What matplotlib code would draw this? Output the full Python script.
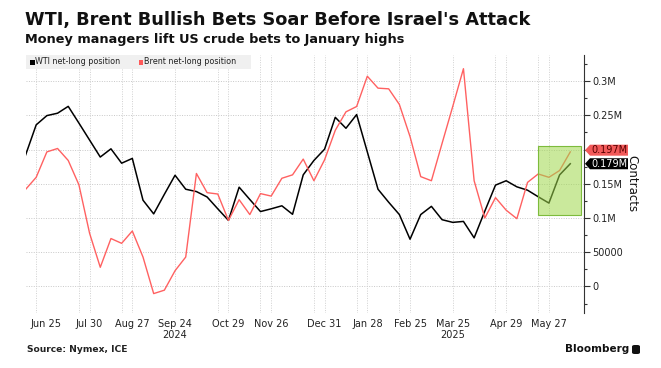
import matplotlib
matplotlib.use('Agg')
import matplotlib.pyplot as plt
import matplotlib.ticker as mticker
import matplotlib.transforms as mtransforms
from matplotlib.patches import Rectangle, Polygon, FancyBboxPatch
import numpy as np
import pandas as pd

# ---------------- data ----------------
dates = pd.date_range('2024-06-18', periods=52, freq='7D')
wti_k = [191.6, 236, 249.5, 253, 263, 238.6, 213.8, 189, 201, 180, 187, 126, 106,
         134.6, 162.4, 142, 138.6, 130.7, 113.4, 96.5, 145, 127, 109.4, 113.4, 117.8,
         105.4, 163, 184, 200.5, 247, 231, 251, 196.5, 142, 123, 105, 69, 105, 117,
         97.5, 93.6, 95, 71, 110, 148, 154.4, 145.5, 140.6, 131, 121.8, 162.9, 179.2]
brent_k = [141.6, 159.4, 196.5, 201.5, 184, 148.5, 77.7, 28, 70, 63, 81, 43, -10.4,
           -5.4, 23, 43, 165, 137, 135, 96.5, 126.7, 105, 135.6, 132, 158, 163, 186,
           154.4, 185, 228, 255, 262.8, 307, 289.6, 288.6, 265.8, 218.8, 160.4, 154.4,
           209, 263, 318, 154.4, 100, 129.7, 111.4, 99, 152, 164.3, 159.4, 169.3, 196.5]
wti = np.array(wti_k) * 1000
brent = np.array(brent_k) * 1000

tick_dates = ['2024-06-25', '2024-07-30', '2024-08-27', '2024-09-24', '2024-10-29',
              '2024-11-26', '2024-12-31', '2025-01-28', '2025-02-25', '2025-03-25',
              '2025-04-29', '2025-05-27']
tick_labels = ['Jun 25', 'Jul 30', 'Aug 27', 'Sep 24\n2024', 'Oct 29', 'Nov 26',
               'Dec 31', 'Jan 28', 'Feb 25', 'Mar 25\n2025', 'Apr 29', 'May 27']
extra_grid_dates = ['2024-07-23', '2024-08-20', '2024-10-22', '2024-11-19',
                    '2024-12-24', '2025-01-21', '2025-02-18', '2025-04-22', '2025-05-20']
y_ticks = [0, 50000, 100000, 150000, 200000, 250000, 300000]
y_labels = ['0', '50000', '0.1M', '0.15M', '0.2M', '0.25M', '0.3M']
hl_start, hl_end, hl_low, hl_high = '2025-05-20', '2025-06-17', 105000, 205000
last_wti_label = '0.179M'
last_brent_label = '0.197M'

title = "WTI, Brent Bullish Bets Soar Before Israel's Attack"
subtitle = "Money managers lift US crude bets to January highs"
source = "Source: Nymex, ICE"

RED = '#ff6161'
BLACK = '#000000'
W, H = 661, 368

fig = plt.figure(figsize=(W / 100, H / 100), dpi=100)
left, right, top, bottom = 25.5, 584, 55, 312.5
ax = fig.add_axes([left / W, 1 - bottom / H, (right - left) / W, (bottom - top) / H])

ax.plot(dates, wti, color=BLACK, lw=1.1, zorder=3)
ax.plot(dates, brent, color=RED, lw=1.0, zorder=3)

ax.set_xlim(pd.Timestamp('2024-06-18'), pd.Timestamp('2025-06-19'))
ax.set_ylim(-38000, 338000)

# grid
for yv in y_ticks:
    ax.axhline(yv, color='#c8c8c8', lw=0.7, ls=(0, (1, 1.5)), zorder=1)
for d in tick_dates + extra_grid_dates:
    ax.axvline(pd.Timestamp(d), color='#d0d0d0', lw=0.7, ls=(0, (1, 1.5)), zorder=1)

# highlight box
x0 = matplotlib.dates.date2num(pd.Timestamp(hl_start))
x1 = matplotlib.dates.date2num(pd.Timestamp(hl_end))
ax.add_patch(Rectangle((x0, hl_low), x1 - x0, hl_high - hl_low,
                       facecolor='#9fd84c', alpha=0.55, edgecolor='none', zorder=4))
ax.add_patch(Rectangle((x0, hl_low), x1 - x0, hl_high - hl_low,
                       facecolor='none', edgecolor='#7dbb3c', lw=0.8, zorder=4))

# axes styling
for s in ['left', 'top', 'bottom']:
    ax.spines[s].set_visible(False)
ax.spines['right'].set_color('#333333')
ax.spines['right'].set_linewidth(0.8)
ax.yaxis.tick_right()
ax.set_yticks(y_ticks)
ax.set_yticklabels(y_labels)
ax.yaxis.set_minor_locator(mticker.MultipleLocator(25000))
ax.tick_params(axis='y', which='major', length=4, width=0.8, color='#333333',
               labelsize=7, labelcolor='#222222', pad=2)
ax.tick_params(axis='y', which='minor', length=2.5, width=0.8, color='#333333')
ax.set_xticks([pd.Timestamp(d) for d in tick_dates])
ax.set_xticklabels(tick_labels)
ax.tick_params(axis='x', length=0, labelsize=7, labelcolor='#222222', pad=5)
for lab in ax.get_xticklabels():
    lab.set_linespacing(1.1)
# shift first label right like the reference
first = ax.get_xticklabels()[0]
first.set_transform(first.get_transform() + mtransforms.ScaledTranslation(10 / 100, 0, fig.dpi_scale_trans))

ax.set_ylabel('Contracts', rotation=270, fontsize=8.5, labelpad=11, color='#111111')
ax.yaxis.set_label_position('right')
ax.yaxis.get_label().set_position((1, 0.5))

# hide 0.2M label (covered by tags)
fig.canvas.draw()
for t in ax.get_yticklabels():
    if t.get_text() == '0.2M':
        t.set_visible(False)

# value tags on right
def tag(value, text, fc, tc):
    _, yd = ax.transData.transform((0, value))
    xs = right + 1
    h = 11
    wdt = 43
    pts = [(xs, yd), (xs + 5, yd + h / 2), (xs + wdt, yd + h / 2),
           (xs + wdt, yd - h / 2), (xs + 5, yd - h / 2)]
    fig.patches.append(Polygon(pts, closed=True, facecolor=fc, edgecolor='none',
                               transform=mtransforms.IdentityTransform(), zorder=10))
    fig.text((xs + 6) / W, yd / H, text, fontsize=7, color=tc, va='center', ha='left',
             zorder=11)

tag(wti[-1], last_wti_label, '#000000', '#ffffff')
tag(brent[-1] + 2500, last_brent_label, '#f25a5a', '#5a0000')

# legend box
fig.patches.append(Rectangle((left / W, 1 - 68.5 / H), (251 - left) / W, 13.5 / H,
                             transform=fig.transFigure, facecolor='#f0f0f0',
                             edgecolor='none', zorder=5))
fig.patches.append(Rectangle((30 / W, 1 - 64.5 / H), 4.5 / W, 4.5 / H,
                             transform=fig.transFigure, facecolor=BLACK, zorder=6))
fig.text(35 / W, 1 - 62 / H, 'WTI net-long position', fontsize=5.8, va='center',
         color='#222222', zorder=7)
fig.patches.append(Rectangle((138.5 / W, 1 - 64.5 / H), 4.5 / W, 4.5 / H,
                             transform=fig.transFigure, facecolor='#ff5a5a', zorder=6))
fig.text(144 / W, 1 - 62 / H, 'Brent net-long position', fontsize=5.8, va='center',
         color='#222222', zorder=7)

# titles, fitted to width
def fitted(x, y, s, target_w, size, **kw):
    t = fig.text(x, y, s, fontsize=size, **kw)
    r = fig.canvas.get_renderer()
    w = t.get_window_extent(r).width
    t.set_fontsize(size * target_w / w)
    return t

fitted(25 / W, 1 - 20 / H, title, 505, 14, fontweight='bold', va='center',
       color='#111111', family='DejaVu Sans')
fitted(25 / W, 1 - 39 / H, subtitle, 379, 10, fontweight='bold', va='center',
       color='#111111', family='DejaVu Sans')
fitted(27 / W, 1 - 350 / H, source, 101, 6, fontweight='bold', va='center',
       color='#222222')
fitted(565 / W, 1 - 349 / H, 'Bloomberg', 63, 8, fontweight='bold', va='center',
       color='#111111')
fig.patches.append(FancyBboxPatch((632 / W, 1 - 354 / H), 8 / W, 9 / H,
                                  boxstyle='round,pad=0,rounding_size=0.004',
                                  transform=fig.transFigure, facecolor='#111111',
                                  edgecolor='none'))

fig.savefig('out.png', dpi=100)
